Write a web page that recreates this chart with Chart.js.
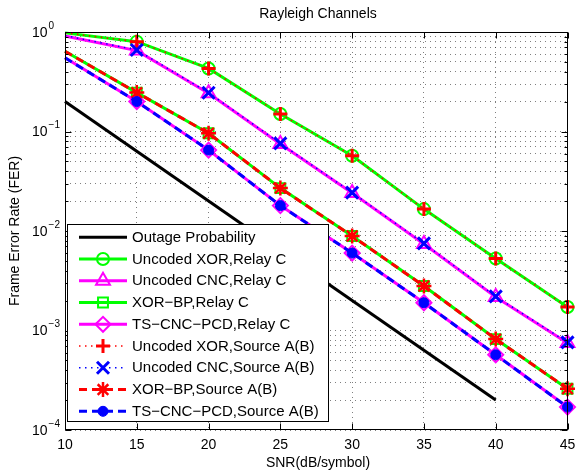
<!DOCTYPE html>
<html><head><meta charset="utf-8">
<script src="https://cdn.jsdelivr.net/npm/chart.js@4.4.0/dist/chart.umd.min.js"></script>
<style>html,body{margin:0;padding:0;background:#fff;overflow:hidden;}</style>
</head><body>
<canvas id="c" width="579" height="472"></canvas>
<script>
// ---- data ----
const titleText = 'Rayleigh Channels';
const xTitle = 'SNR(dB/symbol)';
const yTitle = 'Frame Error Rate (FER)';
const snr = [10, 15, 20, 25, 30, 35, 40, 45];
const outageSnr = [10, 40];
const outage = [0.2, 0.0002];
const xorRelay = [0.98, 0.80, 0.43, 0.15, 0.057, 0.0166, 0.0053, 0.00172];
const cncRelay = [0.91, 0.65, 0.242, 0.075, 0.0241, 0.0074, 0.00217, 0.00075];
const xorBpRelay = [0.64, 0.246, 0.096, 0.027, 0.0089, 0.0028, 0.00082, 0.00026];
const tsCncRelay = [0.55, 0.20, 0.065, 0.018, 0.0060, 0.0019, 0.00057, 0.00017];
const xorSource = [0.98, 0.80, 0.43, 0.15, 0.057, 0.0166, 0.0053, 0.00172];
const cncSource = [0.92, 0.66, 0.245, 0.076, 0.0243, 0.0075, 0.0022, 0.00076];
const xorBpSource = [0.64, 0.246, 0.096, 0.027, 0.0089, 0.0028, 0.00082, 0.00026];
const tsCncSource = [0.55, 0.20, 0.065, 0.018, 0.0060, 0.0019, 0.00057, 0.00017];
const xTicks = [10, 15, 20, 25, 30, 35, 40, 45];
const yTickExps = [0, -1, -2, -3, -4];
const seriesLabels = [
  'Outage Probability',
  'Uncoded XOR,Relay C',
  'Uncoded CNC,Relay C',
  'XOR\u2212BP,Relay C',
  'TS\u2212CNC\u2212PCD,Relay C',
  'Uncoded XOR,Source A(B)',
  'Uncoded CNC,Source A(B)',
  'XOR\u2212BP,Source A(B)',
  'TS\u2212CNC\u2212PCD,Source A(B)'
];

// ---- styles ----
const FONT = '"Liberation Sans", Arial, Helvetica, sans-serif';
const GREEN = '#00ff00', MAG = '#ff00ff', RED = '#ff0000', BLUE = '#0000ff';
const pts = (xs, ys) => xs.map((x, i) => ({x: x, y: ys[i]}));
const radii = (r) => snr.map((_, i) => i === 0 ? 0 : r);

function ds(label, xs, ys, color, width, dash, style, r, fill, pbw, order) {
  return {
    label: label,
    data: pts(xs, ys),
    borderColor: color,
    borderWidth: width,
    borderDash: dash,
    pointStyle: style || 'circle',
    pointRadius: style ? radii(r) : 0,
    pointHoverRadius: style ? radii(r) : 0,
    pointBorderColor: color,
    pointBackgroundColor: fill,
    pointBorderWidth: pbw,
    tension: 0,
    fill: false,
    clip: false,
    order: order,
    mk: style ? {style: style, r: r, fill: fill, bw: pbw} : null
  };
}

const datasets = [
  ds(seriesLabels[0], outageSnr, outage, '#000000', 3, [], null, 0, 'transparent', 0, 20),
  ds(seriesLabels[1], snr, xorRelay, GREEN, 3, [], 'circle', 6, 'rgba(0,0,0,0)', 2, 18),
  ds(seriesLabels[2], snr, cncRelay, MAG, 3, [], 'triangle', 8, 'rgba(0,0,0,0)', 2, 17),
  ds(seriesLabels[3], snr, xorBpRelay, GREEN, 3, [], 'rect', 7, 'rgba(0,0,0,0)', 2, 16),
  ds(seriesLabels[4], snr, tsCncRelay, MAG, 3, [], 'rectRot', 7.5, 'rgba(0,0,0,0)', 2, 15),
  ds(seriesLabels[5], snr, xorSource, RED, 1.5, [1.5, 4.5], 'cross', 7, RED, 3, 4),
  ds(seriesLabels[6], snr, cncSource, BLUE, 1.5, [1.5, 4.5], 'crossRot', 8.5, BLUE, 3, 3),
  ds(seriesLabels[7], snr, xorBpSource, RED, 3, [8, 5], 'star', 7.5, RED, 2.5, 2),
  ds(seriesLabels[8], snr, tsCncSource, BLUE, 3, [8, 5], 'circle', 5, BLUE, 1, 1)
];

function drawMarker(ctx, mk, color, x, y) {
  ctx.save();
  ctx.strokeStyle = color;
  ctx.fillStyle = mk.fill;
  ctx.lineWidth = mk.bw;
  ctx.setLineDash([]);
  Chart.helpers.drawPoint(ctx, {pointStyle: mk.style, radius: mk.r, rotation: 0, borderWidth: mk.bw}, x, y);
  ctx.restore();
}

const decor = {
  id: 'decor',
  beforeDraw(chart) {
    const ctx = chart.ctx;
    ctx.save();
    ctx.fillStyle = '#ffffff';
    ctx.fillRect(0, 0, chart.width, chart.height);
    ctx.restore();
  },
  afterDraw(chart) {
    const ctx = chart.ctx;
    const a = chart.chartArea;
    const xs = chart.scales.x, ys = chart.scales.y;
    ctx.save();
    ctx.setLineDash([]);
    ctx.strokeStyle = '#000';
    ctx.lineWidth = 1;
    // box
    const L = Math.round(a.left) + 0.5, R = Math.round(a.right) - 0.5;
    const T = Math.round(a.top) + 0.5, B = Math.round(a.bottom) - 0.5;
    ctx.strokeRect(L, T, R - L, B - T);
    // ticks inward
    ctx.beginPath();
    xTicks.forEach(v => {
      const px = Math.round(xs.getPixelForValue(v)) + 0.5;
      ctx.moveTo(px, B); ctx.lineTo(px, B - 6);
      ctx.moveTo(px, T); ctx.lineTo(px, T + 6);
    });
    ys.ticks.forEach(t => {
      const py = Math.round(ys.getPixelForValue(t.value)) + 0.5;
      const len = t.major ? 6 : 3;
      ctx.moveTo(L, py); ctx.lineTo(L + len, py);
      ctx.moveTo(R, py); ctx.lineTo(R - len, py);
    });
    ctx.stroke();

    // x tick labels
    ctx.fillStyle = '#000';
    ctx.font = '14px ' + FONT;
    ctx.textAlign = 'center';
    ctx.textBaseline = 'middle';
    xTicks.forEach(v => ctx.fillText(String(v), xs.getPixelForValue(v), 445));
    // y tick labels 10^e
    yTickExps.forEach(e => {
      const py = ys.getPixelForValue(Math.pow(10, e));
      ctx.font = '14px ' + FONT;
      ctx.textAlign = 'left';
      ctx.fillText('10', 32, py + 1);
      const w = ctx.measureText('10').width;
      ctx.font = '10px ' + FONT;
      ctx.fillText(e === 0 ? '0' : '\u2212' + Math.abs(e), 32 + w + 1, py - 6);
    });
    // titles
    ctx.font = '14px ' + FONT;
    ctx.textAlign = 'center';
    ctx.fillText(titleText, 318, 14);
    ctx.fillText(xTitle, 318, 463);
    ctx.save();
    ctx.translate(15, (a.top + a.bottom) / 2);
    ctx.rotate(-Math.PI / 2);
    ctx.fillText(yTitle, 0, 0);
    ctx.restore();

    // legend
    const bx = 67.5, by = 224.5, bw = 261, bh = 197;
    ctx.fillStyle = '#fff';
    ctx.fillRect(bx, by, bw, bh);
    ctx.strokeStyle = '#000';
    ctx.lineWidth = 1;
    ctx.strokeRect(bx, by, bw, bh);
    chart.data.datasets.forEach((d, i) => {
      const ry = 237.3 + i * 21.75;
      ctx.save();
      ctx.strokeStyle = d.borderColor;
      ctx.lineWidth = d.borderWidth;
      ctx.setLineDash(d.borderDash || []);
      ctx.beginPath();
      ctx.moveTo(79, ry); ctx.lineTo(127, ry);
      ctx.stroke();
      ctx.restore();
      if (d.mk) drawMarker(ctx, d.mk, d.borderColor, 103, ry);
      ctx.fillStyle = '#000';
      ctx.font = '15px ' + FONT;
      ctx.textAlign = 'left';
      ctx.textBaseline = 'middle';
      ctx.fillText(d.label, 132, ry + 0.5);
    });
    ctx.restore();
  }
};

new Chart(document.getElementById('c'), {
  type: 'line',
  data: {datasets: datasets},
  plugins: [decor],
  options: {
    responsive: false,
    animation: false,
    devicePixelRatio: 1,
    events: [],
    layout: {padding: {left: 0, right: 8, top: 32, bottom: 0}},
    plugins: {legend: {display: false}, title: {display: false}, tooltip: {enabled: false}},
    scales: {
      x: {
        type: 'linear', min: 10, max: 45,
        afterBuildTicks: s => { s.ticks = xTicks.map(v => ({value: v})); },
        afterFit: s => { s.height = 42; },
        ticks: {display: false},
        grid: {color: 'rgba(0,0,0,0.5)', lineWidth: 1, drawTicks: false},
        border: {display: false, dash: [1, 4]}
      },
      y: {
        type: 'logarithmic', min: 1e-4, max: 1,
        afterBuildTicks: s => {
          const t = [];
          for (let e = -4; e < 0; e++) {
            for (let m = 1; m <= 9; m++) t.push({value: m * Math.pow(10, e), major: m === 1});
          }
          t.push({value: 1, major: true});
          s.ticks = t;
        },
        afterFit: s => { s.width = 65; },
        ticks: {display: false},
        grid: {color: 'rgba(0,0,0,0.5)', lineWidth: 1, drawTicks: false},
        border: {display: false, dash: [1, 4]}
      }
    }
  }
});
</script>
</body></html>
